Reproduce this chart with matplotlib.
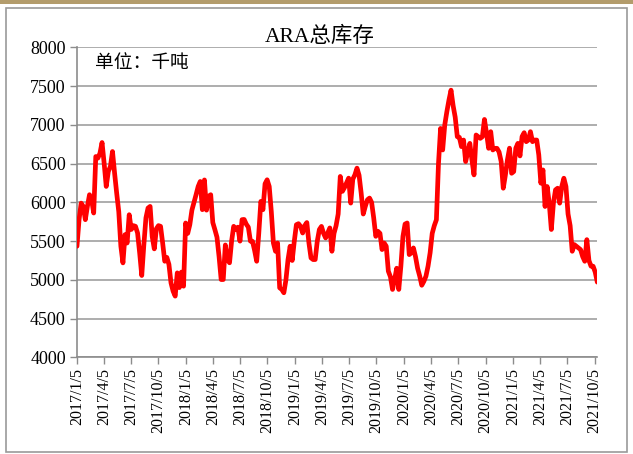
import pandas as pd
import matplotlib
matplotlib.use("Agg")
import matplotlib.pyplot as plt
from matplotlib.patches import Rectangle

# serif latin glyphs, CJK glyphs fall through to Noto
plt.rcParams["font.family"] = ["Liberation Serif", "Noto Sans CJK SC", "DejaVu Sans"]

# weekly ARA stock, thousand tonnes, first week 2017/1/5
start_date = "2017-01-05"
stock = [
    5434, 5777, 5991, 5948, 5777, 5950, 6099, 6034, 5863, 6592,
    6571, 6635, 6773, 6506, 6206, 6399, 6464, 6657, 6378, 6120,
    5880, 5434, 5219, 5584, 5476, 5841, 5650, 5700, 5691, 5605,
    5348, 5056, 5450, 5800, 5927, 5948, 5560, 5400, 5660, 5700,
    5691, 5476, 5240, 5290, 5200, 4961, 4854, 4790, 5090, 4900,
    5100, 4918, 5734, 5600, 5712, 5900, 6000, 6100, 6206, 6270,
    5906, 6290, 5900, 6080, 6099, 5740, 5648, 5550, 5300, 5004,
    5004, 5450, 5262, 5220, 5500, 5691, 5650, 5680, 5500, 5777,
    5780, 5720, 5680, 5500, 5498, 5380, 5240, 5600, 6013, 5906,
    6240, 6292, 6206, 5880, 5476, 5369, 5476, 4897, 4876, 4833,
    5000, 5262, 5434, 5250, 5500, 5712, 5725, 5691, 5605, 5700,
    5740, 5476, 5283, 5262, 5262, 5500, 5650, 5690, 5600, 5541,
    5605, 5670, 5369, 5600, 5700, 5850, 6335, 6142, 6190, 6250,
    6313, 5991, 6300, 6356, 6442, 6350, 6120, 5850, 5950, 6034,
    6056, 6000, 5800, 5562, 5627, 5600, 5391, 5476, 5434, 5112,
    5040, 4876, 5004, 5150, 4876, 5176, 5562, 5720, 5734, 5326,
    5348, 5412, 5300, 5150, 5050, 4930, 4980, 5047, 5176, 5350,
    5600, 5700, 5776, 6500, 6955, 6677, 7000, 7170, 7320, 7449,
    7250, 7100, 6848, 6840, 6720, 6805, 6527, 6650, 6762, 6548,
    6355, 6870, 6848, 6827, 6848, 7071, 6891, 6698, 6913, 6677,
    6698, 6698, 6650, 6527, 6183, 6350, 6550, 6700, 6376, 6398,
    6700, 6762, 6600, 6850, 6900, 6784, 6805, 6913, 6784, 6805,
    6805, 6613, 6248, 6419, 5947, 6205, 5990, 5650, 5990, 6162,
    6183, 5990, 6205, 6312, 6205, 5850, 5700, 5369, 5455, 5433,
    5412, 5390, 5300, 5240, 5519, 5250, 5176, 5176, 5100, 4970,
]
dates = pd.date_range(start_date, periods=len(stock), freq="7D")

tick_labels = [
    "2017/1/5", "2017/4/5", "2017/7/5", "2017/10/5",
    "2018/1/5", "2018/4/5", "2018/7/5", "2018/10/5",
    "2019/1/5", "2019/4/5", "2019/7/5", "2019/10/5",
    "2020/1/5", "2020/4/5", "2020/7/5", "2020/10/5",
    "2021/1/5", "2021/4/5", "2021/7/5", "2021/10/5",
]
tick_dates = pd.to_datetime(tick_labels, format="%Y/%m/%d")
y_ticks = [4000, 4500, 5000, 5500, 6000, 6500, 7000, 7500, 8000]

fig = plt.figure(figsize=(6.33, 4.54), dpi=100)
fig.patch.set_facecolor("white")

# outer frame like the excel chart box
fig.add_artist(Rectangle((0, 0.991), 1, 0.009, transform=fig.transFigure,
                         facecolor="#b39c6c", edgecolor="none"))
fig.add_artist(Rectangle((0.010, 0.004), 0.980, 0.978, transform=fig.transFigure,
                         facecolor="none", edgecolor="#9a9a9a", linewidth=1.2))

ax = fig.add_axes([0.1216, 0.213, 0.822, 0.6824])
ax.plot(dates, stock, color="#ff0000", linewidth=3.4, solid_joinstyle="round",
        solid_capstyle="round", zorder=3)

ax.grid(axis="y", color="#a0a0a0", linewidth=1.2)
ax.set_axisbelow(True)
for side in ["top", "right"]:
    ax.spines[side].set_visible(False)
for side in ["left", "bottom"]:
    ax.spines[side].set_color("#8c8c8c")
    ax.spines[side].set_linewidth(1.2)
ax.tick_params(axis="both", colors="#8c8c8c", labelcolor="black",
               length=5, width=1.0, pad=3)
ax.tick_params(axis="y", labelsize=13)
ax.tick_params(axis="x", labelsize=11.5)

ax.set_ylim(4000, 8000)
ax.set_yticks(y_ticks)
ax.set_yticklabels([str(v) for v in y_ticks])
ax.set_xlim(dates[0], dates[-1])
ax.set_xticks(tick_dates)
ax.set_xticklabels(tick_labels, rotation=90)

fig.text(320 / 633, 1 - 37 / 454, "ARA总库存", ha="center", va="center", fontsize=15.5)
ax.text(0.034, 0.948, "单位：千吨", transform=ax.transAxes, ha="left", va="center",
        fontsize=13.5)

fig.savefig("out.png", dpi=100)
